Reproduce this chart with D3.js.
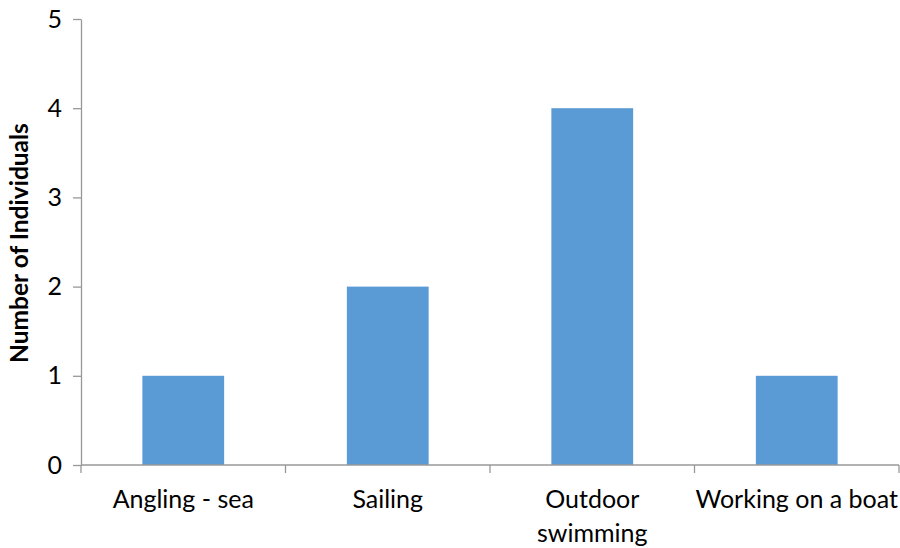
<!DOCTYPE html>
<html>
<head>
<meta charset="utf-8">
<script src="https://cdn.jsdelivr.net/npm/d3@7"></script>
<style>
  html, body { margin: 0; padding: 0; background: #fff; }
  svg text { font-family: Lato, "Open Sans", sans-serif; fill: #000; }
</style>
</head>
<body>
<svg id="chart" width="900" height="548"></svg>
<script>
// Activities and how many individuals reported each
const categories = ["Angling - sea", "Sailing", "Outdoor swimming", "Working on a boat"];
const counts = [1, 2, 4, 1];
const yTicks = [0, 1, 2, 3, 4, 5];
const yTitle = "Number of Individuals";

const svg = d3.select("#chart");
const margin = { left: 81, right: 1, top: 19, bottom: 83 };
const W = 900, H = 548;

const x = d3.scaleBand()
  .domain(categories)
  .range([margin.left, W - margin.right])
  .paddingInner(0.6)
  .paddingOuter(0.3);

const y = d3.scaleLinear()
  .domain([0, 5])
  .range([H - margin.bottom, margin.top]);

const axisColor = "#989898";
const labelSize = 25;

// Bars
svg.append("g")
  .selectAll("rect")
  .data(categories)
  .join("rect")
  .attr("x", d => x(d))
  .attr("width", x.bandwidth())
  .attr("y", (d, i) => y(counts[i]))
  .attr("height", (d, i) => y(0) - y(counts[i]))
  .attr("fill", "#5B9BD5");

// Y axis
const yAxis = svg.append("g")
  .attr("transform", `translate(${margin.left},0)`)
  .call(d3.axisLeft(y).tickValues(yTicks).tickFormat(d3.format("d")).tickSize(8).tickPadding(11).tickSizeOuter(0));
yAxis.select(".domain").attr("stroke", axisColor).attr("stroke-width", 1.3);
yAxis.selectAll(".tick line").attr("stroke", axisColor).attr("stroke-width", 1.3);
yAxis.selectAll(".tick text").attr("font-size", labelSize).attr("font-family", "Lato, sans-serif").attr("fill", "#000");

// X axis: baseline with ticks at category boundaries
const x0 = y(0);
const bounds = d3.range(categories.length + 1).map(i => margin.left + i * (W - margin.right - margin.left) / categories.length);
svg.append("line")
  .attr("x1", margin.left).attr("x2", W - margin.right)
  .attr("y1", x0).attr("y2", x0)
  .attr("stroke", axisColor).attr("stroke-width", 1.3);
svg.append("g")
  .selectAll("line")
  .data(bounds)
  .join("line")
  .attr("x1", d => d).attr("x2", d => d)
  .attr("y1", x0).attr("y2", x0 + 8)
  .attr("stroke", axisColor).attr("stroke-width", 1.3);

// Category labels, wrapped where a label is wider than its slot
const wrapMap = { "Outdoor swimming": ["Outdoor", "swimming"] };
const labels = svg.append("g")
  .selectAll("text")
  .data(categories)
  .join("text")
  .attr("x", d => x(d) + x.bandwidth() / 2)
  .attr("y", x0 + 43)
  .attr("text-anchor", "middle")
  .attr("font-size", labelSize);
labels.each(function(d) {
  const lines = wrapMap[d] || [d];
  const t = d3.select(this);
  lines.forEach((ln, i) => {
    t.append("tspan")
      .attr("x", x(d) + x.bandwidth() / 2)
      .attr("dy", i === 0 ? 0 : 34)
      .text(ln);
  });
});

// Y axis title
svg.append("text")
  .attr("transform", `translate(28,${(y(0) + y(5)) / 2 + 1}) rotate(-90)`)
  .attr("text-anchor", "middle")
  .attr("font-size", 24.5)
  .attr("font-weight", "bold")
  .text(yTitle);
</script>
</body>
</html>
